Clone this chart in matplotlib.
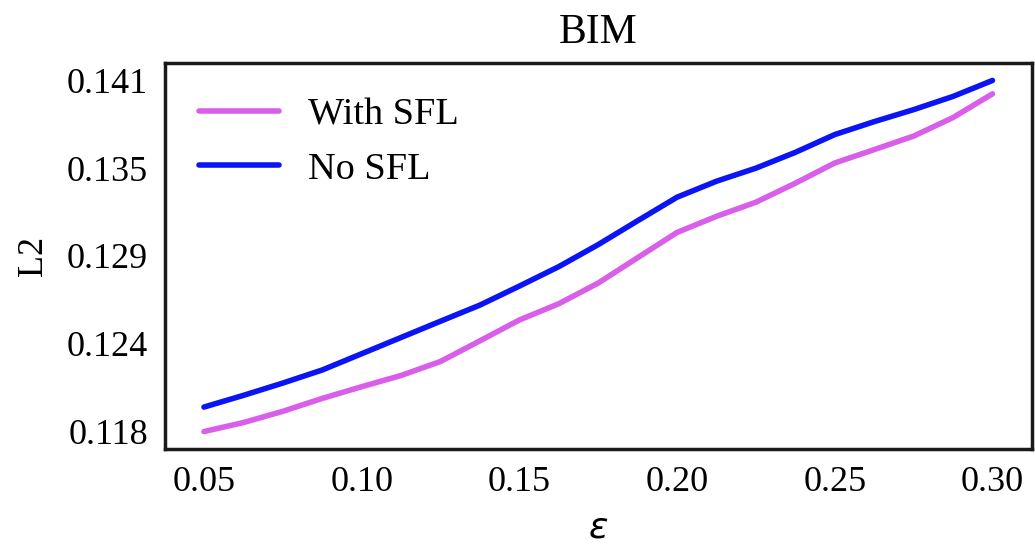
import numpy as np
import matplotlib
matplotlib.use("Agg")
import matplotlib.pyplot as plt
from matplotlib.ticker import FormatStrFormatter

# DATA
eps = [0.05, 0.0625, 0.075, 0.0875, 0.10, 0.1125, 0.125, 0.1375, 0.15, 0.1625,
       0.175, 0.1875, 0.20, 0.2125, 0.225, 0.2375, 0.25, 0.2625, 0.275, 0.2875, 0.30]
with_sfl = [0.11790, 0.11849, 0.11923, 0.12008, 0.12085, 0.12159, 0.12251,
            0.12387, 0.12524, 0.12631, 0.12767, 0.12934, 0.13100, 0.13206,
            0.13299, 0.13424, 0.13557, 0.13645, 0.13734, 0.13856, 0.14012]
no_sfl = [0.11951, 0.12028, 0.12109, 0.12195, 0.12302, 0.12409, 0.12516,
          0.12622, 0.12747, 0.12875, 0.13020, 0.13177, 0.13332, 0.13437,
          0.13523, 0.13627, 0.13744, 0.13829, 0.13908, 0.13995, 0.14100]
labels = ["With SFL", "No SFL"]
xticks = [0.05, 0.10, 0.15, 0.20, 0.25, 0.30]

plt.rcParams['font.family'] = ['Liberation Serif', 'DejaVu Serif']
plt.rcParams['mathtext.fontset'] = 'dejavusans'

fig = plt.figure(figsize=(10.35, 5.47), dpi=100)
ax = fig.add_axes([0.159, 0.179, 0.838, 0.706])

ax.plot(eps, with_sfl, color='#d95eea', lw=4.0, label=labels[0],
        solid_capstyle='round', solid_joinstyle='round')
ax.plot(eps, no_sfl, color='#0a14f5', lw=4.0, label=labels[1],
        solid_capstyle='round', solid_joinstyle='round')

# y ticks evenly spread between data min and max
lo = min(min(with_sfl), min(no_sfl))
hi = max(max(with_sfl), max(no_sfl))
ax.set_yticks(np.linspace(lo, hi, 5))
ax.yaxis.set_major_formatter(FormatStrFormatter('%.3f'))
ax.set_xticks(xticks)
ax.xaxis.set_major_formatter(FormatStrFormatter('%.2f'))

ax.tick_params(axis='both', length=0, pad=12, labelsize=26)
for s in ax.spines.values():
    s.set_linewidth(2.5)
    s.set_color('#1a1a1a')

ax.set_title('BIM', fontsize=30, pad=14)
ax.set_ylabel('L2', fontsize=26, labelpad=12)
ax.set_xlabel(r'$\varepsilon$', fontsize=26, labelpad=10)

ax.legend(loc='upper left', frameon=False, fontsize=27.5, handlelength=2.1,
          handletextpad=0.75, labelspacing=0.52, borderaxespad=0.5)

fig.savefig('out.png', dpi=100)
